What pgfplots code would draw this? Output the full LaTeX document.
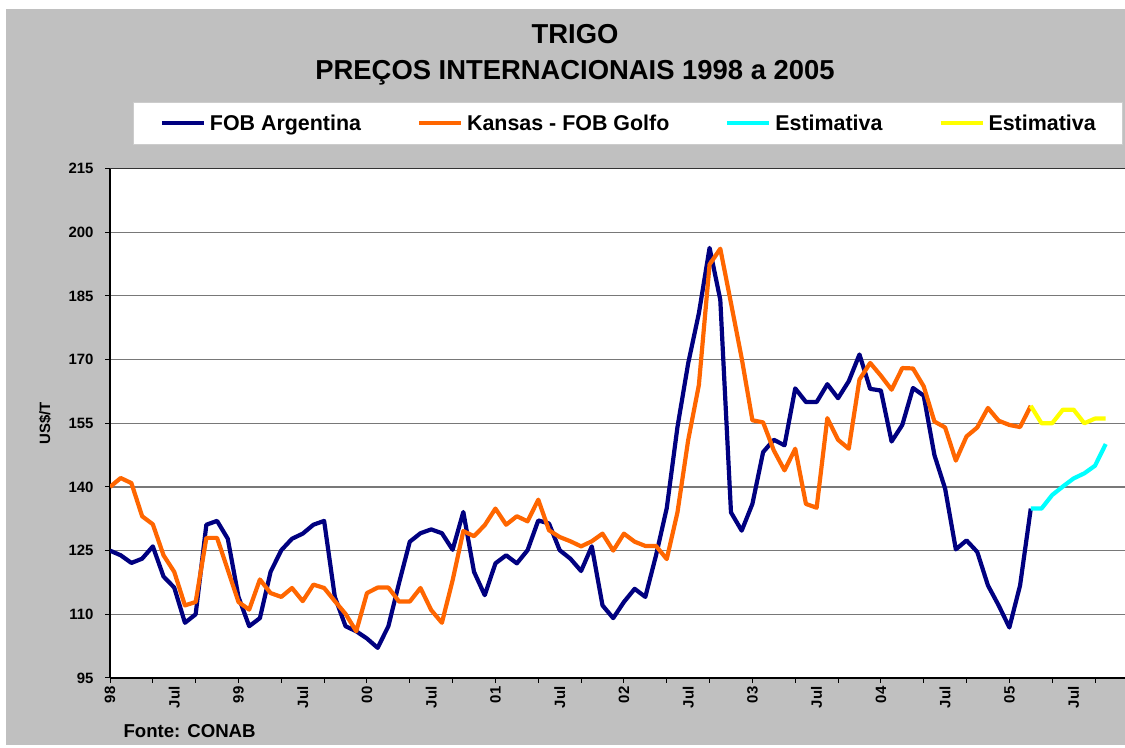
\documentclass[border=0pt]{standalone}
\usepackage{fontspec}
\setmainfont{Liberation Sans}
\usepackage{pgfplots}
\usepackage{pgfplotstable}
\pgfplotsset{compat=1.18}

\definecolor{bggray}{RGB}{192,192,192}
\definecolor{gridgray}{RGB}{120,120,120}
\definecolor{navy}{RGB}{0,0,128}
\definecolor{laranja}{RGB}{255,102,0}
\definecolor{ciano}{RGB}{0,255,255}
\definecolor{amarelo}{RGB}{255,255,0}

% monthly prices, i = 0 is Jan 1998
\pgfplotstableread{
i   arg   kan
0   125.0 140.0
1   123.9 142.1
2   122.1 140.9
3   123.1 133.1
4   126.0 131.2
5   118.9 123.9
6   116.3 120.0
7   108.0 112.1
8   110.0 112.9
9   131.1 128.0
10  132.0 128.0
11  127.8 120.5
12  114.1 112.9
13  107.2 111.1
14  109.1 118.2
15  120.0 115.0
16  125.1 114.1
17  127.8 116.2
18  129.0 113.1
19  131.1 117.0
20  132.0 116.2
21  114.1 113.1
22  107.2 110.1
23  106.0 106.0
24  104.3 115.0
25  102.1 116.3
26  107.2 116.3
27  117.4 113.0
28  127.1 113.0
29  129.1 116.2
30  130.0 111.0
31  129.1 108.0
32  125.2 118.0
33  134.1 129.6
34  120.0 128.4
35  114.5 131.0
36  122.0 134.9
37  123.9 131.1
38  122.0 133.1
39  125.1 131.9
40  132.1 137.0
41  131.4 129.8
42  125.1 128.2
43  123.1 127.2
44  120.2 126.0
45  126.0 127.2
46  112.1 129.0
47  109.1 125.0
48  112.9 129.0
49  116.0 127.1
50  114.1 126.1
51  123.9 126.1
52  135.0 123.0
53  154.1 134.0
54  169.1 151.0
55  180.9 164.0
56  196.3 192.4
57  184.1 196.1
58  134.0 183.3
59  129.7 170.3
60  136.0 155.7
61  148.2 155.2
62  151.1 148.6
63  149.8 143.9
64  163.2 149.0
65  160.0 136.0
66  160.0 135.1
67  164.2 156.2
68  160.9 151.1
69  164.9 149.0
70  171.2 165.3
71  163.1 169.2
72  162.7 166.2
73  150.7 162.9
74  154.6 168.0
75  163.3 167.9
76  161.5 163.7
77  147.5 155.4
78  139.6 154.0
79  125.3 146.2
80  127.4 151.9
81  124.7 154.0
82  116.8 158.6
83  112.1 155.6
84  106.9 154.6
85  116.8 154.1
86  134.9 159.1
}\precos

\pgfplotstableread{
i   est1  est2
86  134.9 159.1
87  134.9 155.0
88  138.1 155.0
89  140.1 158.2
90  142.0 158.2
91  143.2 155.0
92  145.0 156.1
93  150.1 156.1
}\estim

\begin{document}
\begin{tikzpicture}
  \fill[white] (0bp,0bp) rectangle (1125bp,748bp);
  \fill[bggray] (6bp,3bp) rectangle (1125bp,739bp);

  \node[anchor=base, font=\bfseries\fontsize{27.5}{30}\selectfont] at (575bp,704bp) {TRIGO};
  \node[anchor=base, font=\bfseries\fontsize{27.5}{30}\selectfont] at (575bp,668bp) {PREÇOS INTERNACIONAIS 1998 a 2005};

  \begin{axis}[
      at={(110bp,70bp)}, anchor=south west,
      scale only axis,
      width=1015bp, height=509.5bp,
      xmin=0, xmax=94.8,
      ymin=95, ymax=215,
      axis background/.style={fill=white},
      axis x line*=bottom,
      axis y line*=left,
      axis line style={black, line width=1.3bp, -},
      tick align=outside,
      major tick length=5bp,
      tick style={black, line width=1bp},
      /pgf/number format/assume math mode=true,
      ytick={95,110,...,215},
      yticklabel style={font=\bfseries\fontsize{15}{16}\selectfont, xshift=-8bp},
      xtick={0,4,...,92},
      xticklabels={},
      xticklabel style={font=\bfseries\fontsize{15}{16}\selectfont, rotate=90, anchor=east},
      extra x ticks={0,6,...,90},
      extra x tick labels={98,Jul,99,Jul,00,Jul,01,Jul,02,Jul,03,Jul,04,Jul,05,Jul},
      extra x tick style={tick style={draw=none}},
      ymajorgrids=true,
      grid style={gridgray, line width=1.2bp},
      ylabel={US\$/T},
      ylabel style={at={(axis description cs:-0.064,0.5)}, anchor=center, rotate=0,
        font=\bfseries\fontsize{15}{16}\selectfont},
      legend columns=4,
      legend cell align=left,
      legend style={at={(axis description cs:0.0224,1.13)}, anchor=north west,
        fill=white, draw=gray!40, inner xsep=27bp, inner ysep=13bp,
        font=\bfseries\fontsize{21.5}{24}\selectfont,
        nodes={inner sep=0pt, text height=15.5bp, text depth=0pt},
        /tikz/every odd column/.append style={column sep=4bp},
        /tikz/every even column/.append style={column sep=56bp}},
      legend image code/.code={\draw[#1, line width=4bp] (0bp,0bp) -- (42bp,0bp);},
      every axis plot/.append style={line width=4.2bp, line join=round, no markers},
    ]
    \addplot[navy] table[x=i, y=arg] {\precos};
    \addplot[laranja] table[x=i, y=kan] {\precos};
    \addplot[ciano] table[x=i, y=est1] {\estim};
    \addplot[amarelo] table[x=i, y=est2] {\estim};
    \legend{FOB Argentina, Kansas - FOB Golfo, Estimativa, Estimativa}
    \draw[black!80, line width=1.6bp] (rel axis cs:0,1) -- (rel axis cs:1,1);
  \end{axis}

  \node[anchor=base west, font=\bfseries\fontsize{18.7}{20}\selectfont] at (120bp,11bp) {Fonte: CONAB};

  \pgfresetboundingbox
  \path[use as bounding box] (0bp,0bp) rectangle (1125bp,748bp);
\end{tikzpicture}
\end{document}
